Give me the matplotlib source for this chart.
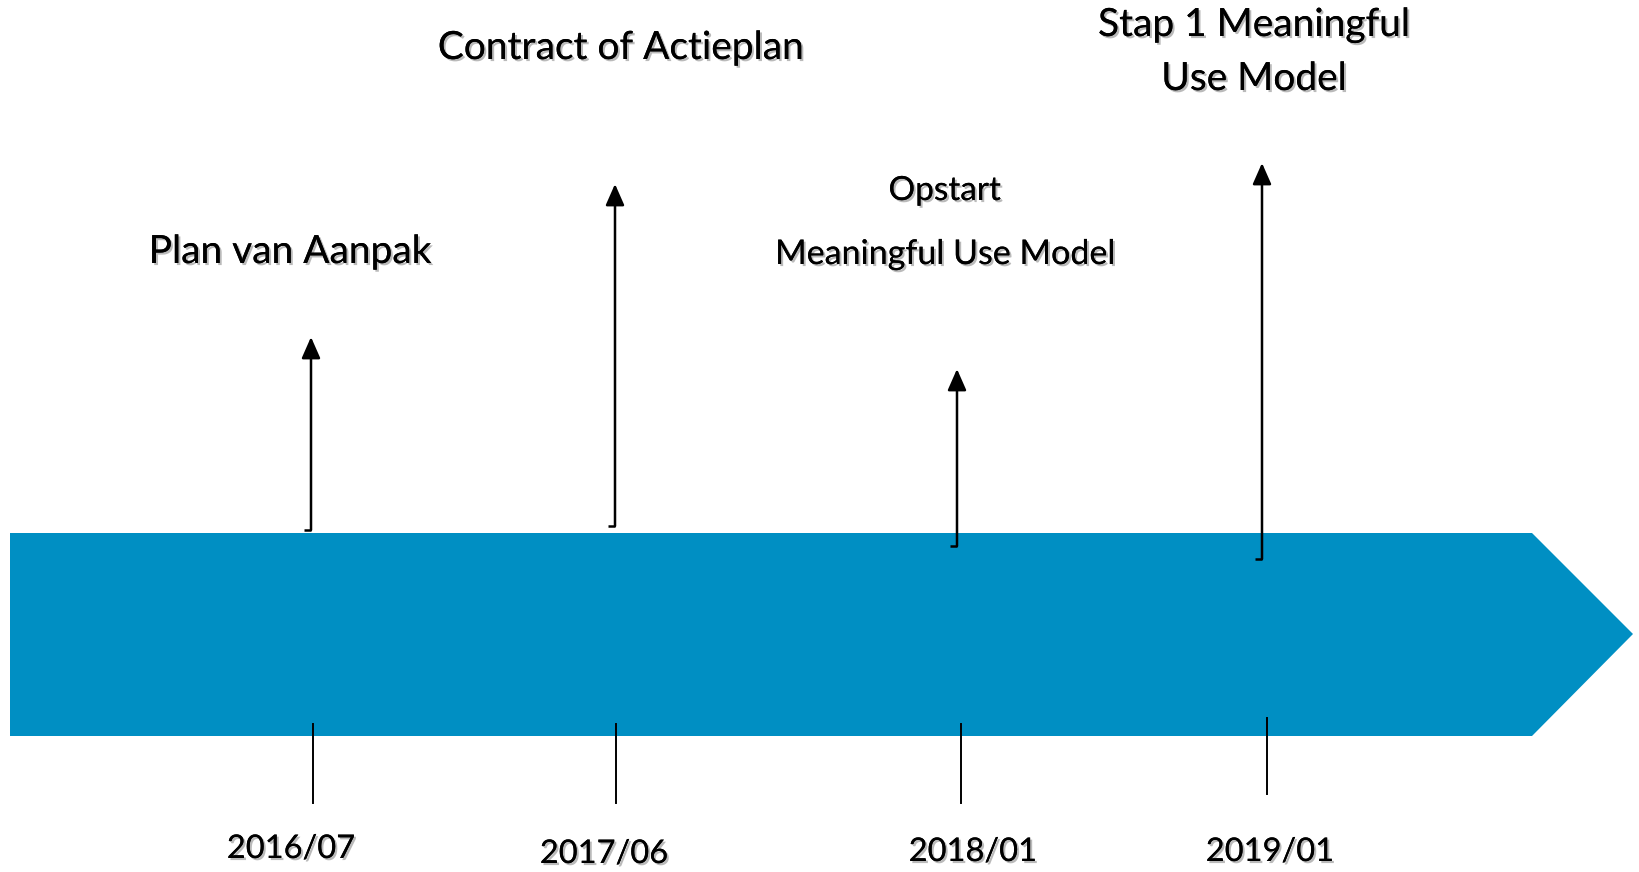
import matplotlib
matplotlib.use("Agg")
from matplotlib import pyplot as plt
from matplotlib.patches import Polygon
import matplotlib.patheffects as pe

# timeline events (pixel-space layout of the original slide)
dates = ["2016/07", "2017/06", "2018/01", "2019/01"]
event_x = [311, 615, 957, 1262]
arrow_top = [337, 184, 369, 163]
arrow_base = [530, 526, 546, 559]
tick_x = [313, 616, 961, 1267]
tick_top = [724, 724, 724, 718]
tick_bottom = [803, 803, 803, 794]
date_x = [291, 604, 973, 1270]
date_y = [849, 854, 852, 852]

labels = ["Plan van Aanpak", "Contract of Actieplan", "Opstart",
          "Meaningful Use Model", "Stap 1 Meaningful", "Use Model"]
label_x = [290, 621, 945, 945, 1254, 1254]
label_y = [252, 48, 191, 254, 25, 79]
label_size = [28, 28, 24, 24.5, 28, 28]

band = [(10, 533), (1532, 533), (1633, 634), (1532, 736), (10, 736)]
BLUE = "#008FC3"
FONT = "Lato"


def main() -> None:
    fig = plt.figure(figsize=(16.39, 8.72), dpi=100)
    ax = fig.add_axes([0, 0, 1, 1])
    ax.set_xlim(0, 1639)
    ax.set_ylim(872, 0)
    ax.axis("off")

    ax.add_patch(Polygon(band, closed=True, facecolor=BLUE, edgecolor="none", zorder=1))

    shadow = [pe.withSimplePatchShadow(offset=(1.5, -1.5), shadow_rgbFace="#777777", alpha=0.5),
              pe.Normal()]

    for x, top, base in zip(event_x, arrow_top, arrow_base):
        ax.plot([x - 7, x], [base, base], color="black", lw=1.8, zorder=3,
                solid_capstyle="butt")
        ax.annotate("", xy=(x, top), xytext=(x, base),
                    arrowprops=dict(arrowstyle="-|>,head_length=0.5,head_width=0.22",
                                    color="black", lw=1.8, mutation_scale=26,
                                    shrinkA=0, shrinkB=0),
                    zorder=3)

    for x, y0, y1 in zip(tick_x, tick_top, tick_bottom):
        ax.plot([x, x], [y0, y1], color="black", lw=1.4, zorder=3)

    for d, x, y in zip(dates, date_x, date_y):
        ax.text(x, y, d, ha="center", va="center", fontsize=23.5, family=FONT,
                path_effects=shadow)

    for t, x, y, s in zip(labels, label_x, label_y, label_size):
        ax.text(x, y, t, ha="center", va="center", fontsize=s, family=FONT,
                path_effects=shadow)

    fig.savefig("out.png", dpi=100, facecolor="white")


if __name__ == "__main__":
    main()
